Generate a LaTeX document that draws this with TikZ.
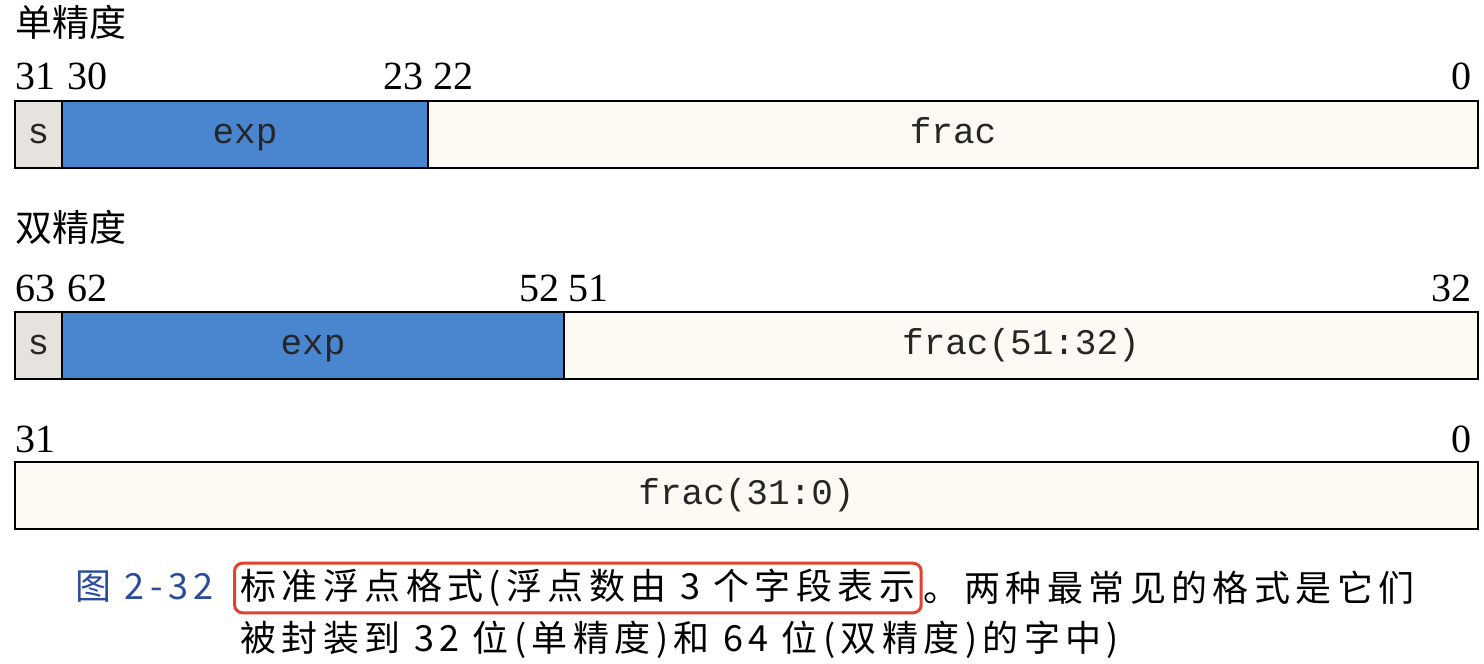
\documentclass[tikz,border=0pt]{standalone}
\usepackage{fontspec}
\setmainfont{Liberation Serif}
\setmonofont{Liberation Mono}
\newfontfamily\cjk{Noto Sans CJK SC}
\newfontfamily\cjkwide[LetterSpace=15]{Noto Sans CJK SC}
\usetikzlibrary{positioning}

\definecolor{expblue}{HTML}{4A86CF}
\definecolor{signgray}{HTML}{E6E2DD}
\definecolor{fraccream}{HTML}{FDFAF4}
\definecolor{capblue}{HTML}{2B4C9B}
\definecolor{markred}{HTML}{E2412E}

\begin{document}
\begin{tikzpicture}[x=0.5pt, y=-0.5pt,
  field/.style={draw, line width=1.2pt, outer sep=0pt, inner sep=0pt, minimum height=33.5pt,
                text height=14.5pt, text depth=6pt, text=black!85,
                font=\ttfamily\fontsize{18}{20}\selectfont},
  bitno/.style={inner sep=0pt, anchor=base west, font=\fontsize{20}{24}\selectfont},
  head/.style={inner sep=0pt, anchor=west, font=\cjk\fontsize{18.5}{22}\selectfont},
  captext/.style={inner sep=0pt, anchor=west, font=\cjkwide\fontsize{18}{22}\selectfont}]
  \useasboundingbox (0,0) rectangle (1484,664);

  % single precision
  \node[head] (single) at (15,22) {单精度};
  \node[bitno] (s31) at (15,90) {31};
  \node[bitno] (s30) at (67,90) {30};
  \node[bitno] (s23) at (383,90) {23};
  \node[bitno] (s22) at (433,90) {22};
  \node[bitno, anchor=base east] (s0) at (1472,90) {0};
  \node[field, fill=signgray, anchor=north west, minimum width=23.5pt] (sgn1) at (15,101) {s};
  \node[field, fill=expblue, minimum width=183pt, right=0pt of sgn1] (exp1) {exp};
  \node[field, fill=fraccream, minimum width=525pt, right=0pt of exp1] (frac1) {frac};

  % double precision
  \node[head] (double) at (15,227) {双精度};
  \node[bitno] (d63) at (15,301) {63};
  \node[bitno] (d62) at (67,301) {62};
  \node[bitno] (d52) at (519,301) {52};
  \node[bitno] (d51) at (568,301) {51};
  \node[bitno, anchor=base east] (d32) at (1472,301) {32};
  \node[field, fill=signgray, anchor=north west, minimum width=23.5pt] (sgn2) at (15,312) {s};
  \node[field, fill=expblue, minimum width=251pt, right=0pt of sgn2] (exp2) {exp};
  \node[field, fill=fraccream, minimum width=457pt, right=0pt of exp2] (frac2) {frac(51:32)};

  \node[bitno] (l31) at (15,452) {31};
  \node[bitno, anchor=base east] (l0) at (1472,452) {0};
  \node[field, fill=fraccream, anchor=north west, minimum width=731.5pt] (frac3) at (15,462) {frac(31:0)};

  % caption
  \node[captext, text=capblue] (fig) at (75,587) {图 2-32};
  \node[captext, draw=markred, line width=1.5pt, rounded corners=4pt, inner xsep=3pt, inner ysep=3pt] (capA) at (233,588) {标准浮点格式(浮点数由 3 个字段表示};
  \node[captext, right=0pt of capA] (capB) {。两种最常见的格式是它们};
  \node[captext] (capC) at (240,640) {被封装到 32 位(单精度)和 64 位(双精度)的字中)};
\end{tikzpicture}
\end{document}
